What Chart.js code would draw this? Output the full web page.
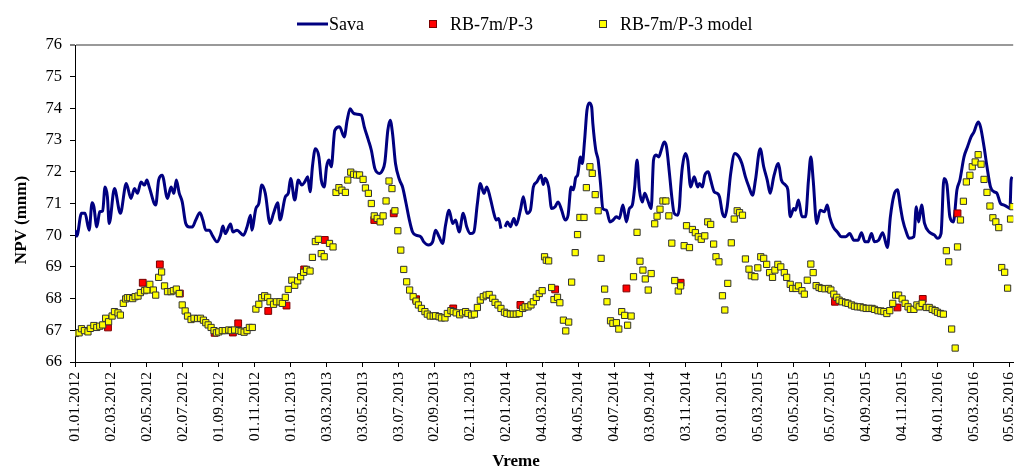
<!DOCTYPE html>
<html>
<head>
<meta charset="utf-8">
<script src="https://cdn.jsdelivr.net/npm/chart.js@4.4.0/dist/chart.umd.min.js"></script>
<style>
  html, body { margin: 0; padding: 0; background: #fff; overflow: hidden; }
  #wrap { width: 1019px; height: 468px; }
</style>
</head>
<body>
<div id="wrap"><canvas id="npvChart"></canvas></div>
<script>
// x values are days counted from 01.01.2012
const startDate = Date.UTC(2012, 0, 1);
const tickStepDays = 61;
const tickCount = 27;          // 01.01.2012 ... 05.05.2016
const lastDay = 1592.5;        // plot is cut at the right edge
const yMin = 66, yMax = 76;

// Sava river level [day, NPV]
const savaLevels = [
  [0,70.16],[3,69.97],[11,70.69],[17,70.69],[24,70.16],[29,71.02],[32,70.9],[37,70.26],[42,70.74],[47,70.77],
  [51,71.52],[55,71.21],[58,70.37],[67,71.47],[77,70.69],[87,71.63],[95,71.16],[101,71.47],[106,71.32],[112,71.68],
  [118,71.58],[122,71.74],[126,71.52],[137,70.95],[142,71.74],[148,71.89],[157,71.16],[163,71.52],[168,71.32],[172,71.74],
  [177,71.32],[182,71.05],[188,70.37],[194,70.26],[199,70.26],[205,70.48],[212,70.71],[217,70.48],[222,70.16],[228,70.16],
  [233,70.0],[241,69.79],[247,70.0],[251,70.29],[255,70.05],[264,70.35],[268,70.1],[275,70.16],[286,70.0],[292,70.26],
  [298,70.63],[300,70.16],[307,70.84],[312,71.0],[317,71.58],[323,71.32],[331,70.37],[337,70.69],[344,71.02],[348,70.48],
  [357,71.21],[362,71.32],[366,71.79],[373,71.11],[379,71.74],[385,71.58],[390,71.68],[395,71.84],[399,71.37],[403,72.16],
  [408,72.73],[414,72.47],[418,71.74],[423,71.52],[427,72.16],[431,72.37],[435,72.16],[441,73.31],[449,73.42],[457,73.1],
  [462,73.63],[467,73.99],[472,73.86],[477,73.82],[486,73.79],[491,73.42],[498,73.0],[503,72.68],[509,72.1],[517,71.95],
  [522,72.05],[526,72.31],[531,73.31],[535,73.63],[539,73.21],[544,72.26],[551,71.74],[556,71.52],[562,71.0],[567,70.53],
  [573,70.1],[579,70.0],[587,69.95],[592,69.79],[600,69.69],[607,69.79],[612,70.16],[618,69.95],[624,69.74],[629,70.32],
  [635,70.79],[641,70.37],[646,70.48],[652,70.1],[659,70.69],[665,70.26],[671,70.05],[677,70.1],[683,71.0],[688,71.63],
  [694,71.32],[699,71.52],[705,71.16],[711,70.69],[715,70.48],[719,70.53],[723,70.21],[726,null],[730,70.26],[734,70.42],
  [739,70.27],[745,70.53],[749,70.32],[756,70.79],[761,71.21],[767,70.69],[773,70.79],[778,71.52],[784,71.68],[791,71.89],
  [795,71.6],[798,71.8],[804,71.52],[809,70.84],[815,70.9],[820,71.05],[826,70.79],[832,70.48],[837,70.64],[842,71.52],
  [846,71.43],[850,71.82],[853,71.89],[858,72.47],[861,72.26],[865,73.0],[869,73.94],[873,74.17],[877,74.04],[879,73.52],
  [884,72.68],[888,72.37],[892,71.63],[896,70.84],[902,70.79],[908,70.42],[913,70.47],[919,70.58],[924,70.53],[930,70.95],
  [936,70.42],[941,70.84],[946,70.95],[950,71.52],[954,72.37],[958,71.43],[963,71.05],[967,71.32],[972,71.11],[978,70.84],
  [982,72.37],[986,72.53],[991,72.47],[995,72.68],[1000,72.94],[1004,72.79],[1009,71.95],[1013,71.21],[1017,70.69],[1023,70.63],
  [1026,70.9],[1028,71.52],[1031,72.16],[1036,72.58],[1040,72.37],[1045,71.52],[1051,71.84],[1057,71.52],[1060,71.63],[1065,71.52],
  [1069,71.89],[1075,72.0],[1079,71.74],[1085,71.37],[1090,71.32],[1094,71.21],[1099,70.69],[1103,70.58],[1107,70.9],[1113,71.95],
  [1120,72.58],[1127,72.47],[1132,72.26],[1138,71.84],[1144,71.52],[1150,71.26],[1155,71.74],[1163,72.73],[1169,72.16],[1175,71.74],
  [1180,71.32],[1186,71.84],[1194,72.26],[1199,71.74],[1206,71.58],[1210,71.43],[1214,70.58],[1220,70.84],[1223,70.79],[1228,71.11],
  [1234,70.58],[1240,70.58],[1245,71.74],[1249,72.47],[1253,71.74],[1259,70.37],[1265,70.79],[1272,70.74],[1277,70.95],[1281,70.58],
  [1287,70.26],[1294,70.1],[1301,69.95],[1308,69.95],[1315,70.05],[1322,69.84],[1329,69.84],[1335,70.08],[1341,69.79],[1346,69.79],
  [1352,70.05],[1357,69.79],[1364,69.84],[1371,70.08],[1379,69.61],[1384,70.58],[1390,71.26],[1396,71.43],[1401,70.9],[1405,70.48],
  [1411,70.1],[1416,69.9],[1424,69.95],[1428,70.9],[1432,70.42],[1437,70.95],[1442,70.37],[1450,70.1],[1459,70.0],[1464,69.9],
  [1470,70.05],[1475,71.79],[1480,71.6],[1485,70.58],[1491,70.42],[1497,71.43],[1502,71.74],[1509,72.47],[1515,72.79],[1521,73.1],
  [1526,73.26],[1533,73.57],[1537,73.42],[1543,72.79],[1548,72.16],[1554,71.52],[1560,71.37],[1565,71.32],[1571,71.0],[1577,70.95],
  [1582,70.9],[1587,70.84],[1589,71.74],[1591,71.84]
];

// measured piezometer RB-7m/P-3 [day, NPV]
const rbMeasured = [
  [56,67.09],[115,68.5],[144,69.08],[178,68.16],[237,66.92],[268,66.93],[277,67.22],[328,67.61],[359,67.78],[389,68.92],
  [424,69.85],[508,70.48],[541,70.69],[579,67.98],[642,67.69],[756,67.8],[815,68.29],[936,68.32],[1028,68.5],[1290,67.9],
  [1396,67.72],[1439,67.99],[1498,70.69]
];

// model RB-7m/P-3 [day, NPV]
const rbModel = [
  [1,66.9],[7,66.92],[11,67.05],[16,66.99],[22,66.95],[26,67.06],[32,67.15],[37,67.09],[42,67.13],[47,67.17],
  [52,67.38],[57,67.27],[63,67.45],[67,67.59],[73,67.55],[77,67.48],[82,67.85],[86,67.99],[89,68.03],[93,68.03],
  [98,68.0],[102,68.06],[107,68.08],[111,68.19],[118,68.25],[122,68.27],[127,68.45],[133,68.27],[137,68.11],[142,68.67],
  [147,68.84],[152,68.4],[157,68.22],[163,68.22],[167,68.25],[172,68.3],[177,68.16],[182,67.8],[187,67.61],[191,67.45],
  [197,67.34],[202,67.38],[208,67.37],[213,67.38],[218,67.32],[222,67.24],[226,67.17],[231,67.09],[236,66.99],[240,66.92],
  [244,66.95],[250,66.99],[255,66.99],[261,67.01],[265,66.99],[271,67.01],[278,66.99],[282,66.97],[287,66.94],[292,66.99],
  [296,67.09],[301,67.09],[307,67.67],[312,67.82],[317,68.03],[322,68.09],[327,68.04],[331,67.9],[337,67.82],[342,67.9],
  [348,67.9],[352,67.85],[357,68.04],[362,68.29],[368,68.58],[373,68.42],[378,68.56],[383,68.69],[388,68.83],[393,68.92],
  [399,68.87],[403,69.3],[408,69.8],[413,69.87],[418,69.42],[423,69.32],[432,69.74],[438,69.63],[443,71.35],[448,71.5],
  [453,71.42],[459,71.35],[463,71.74],[468,71.99],[473,71.92],[478,71.9],[483,71.9],[489,71.76],[493,71.49],[498,71.32],
  [503,71.0],[508,70.61],[513,70.53],[518,70.42],[523,70.61],[528,71.08],[533,71.71],[538,71.47],[543,70.77],[548,70.14],
  [553,69.53],[558,68.92],[563,68.53],[568,68.27],[574,68.06],[579,67.92],[583,67.8],[588,67.69],[594,67.59],[598,67.51],
  [603,67.45],[608,67.45],[612,67.46],[618,67.43],[622,67.39],[628,67.39],[632,67.53],[638,67.62],[642,67.59],[647,67.55],
  [653,67.49],[658,67.55],[663,67.59],[667,67.53],[673,67.48],[678,67.51],[683,67.72],[688,67.95],[693,68.06],[698,68.11],
  [703,68.13],[709,68.01],[713,67.88],[718,67.8],[723,67.69],[729,67.57],[733,67.53],[739,67.51],[744,67.51],[749,67.51],
  [754,67.53],[760,67.69],[764,67.74],[769,67.74],[774,67.8],[778,67.9],[783,68.04],[788,68.16],[793,68.25],[797,69.32],
  [800,69.21],[804,69.19],[809,68.35],[813,67.97],[819,68.04],[823,67.87],[829,67.32],[833,66.98],[838,67.26],[843,68.52],
  [849,69.45],[853,70.02],[857,70.56],[864,70.56],[868,71.5],[874,72.16],[878,71.95],[883,71.28],[888,70.77],[893,69.27],
  [899,68.3],[903,67.9],[909,67.3],[913,67.22],[919,67.24],[923,67.04],[928,67.59],[933,67.47],[938,67.16],[944,67.45],
  [948,68.69],[954,70.09],[959,69.18],[964,68.9],[968,68.62],[973,68.27],[978,68.79],[984,70.36],[988,70.6],[993,70.82],
  [998,71.08],[1003,71.08],[1008,70.61],[1013,69.75],[1018,68.57],[1024,68.24],[1028,68.4],[1034,69.67],[1038,70.3],[1043,69.61],
  [1048,70.18],[1053,70.08],[1058,69.95],[1063,69.87],[1069,69.98],[1074,70.42],[1079,70.34],[1084,69.72],[1088,69.32],[1093,69.16],
  [1099,68.09],[1103,67.64],[1108,68.48],[1114,69.76],[1119,70.51],[1124,70.77],[1128,70.71],[1133,70.63],[1138,69.25],[1144,68.93],
  [1148,68.72],[1154,68.69],[1159,68.97],[1164,69.32],[1169,69.27],[1174,69.08],[1179,68.82],[1184,68.67],[1188,68.9],[1193,69.08],
  [1198,69.0],[1204,68.82],[1208,68.67],[1214,68.45],[1218,68.32],[1224,68.32],[1228,68.4],[1234,68.25],[1238,68.14],[1243,68.58],
  [1249,69.09],[1253,68.82],[1258,68.41],[1263,68.35],[1267,68.32],[1273,68.31],[1279,68.32],[1283,68.27],[1288,68.14],[1293,68.04],
  [1297,67.95],[1302,67.9],[1308,67.87],[1312,67.85],[1318,67.8],[1323,67.76],[1328,67.74],[1333,67.74],[1338,67.71],[1343,67.69],
  [1348,67.69],[1353,67.69],[1357,67.66],[1363,67.62],[1368,67.61],[1373,67.59],[1378,67.53],[1383,67.62],[1388,67.85],[1393,68.11],
  [1398,68.11],[1404,67.99],[1409,67.85],[1414,67.74],[1418,67.66],[1424,67.66],[1429,67.8],[1433,67.74],[1438,67.85],[1445,67.72],
  [1450,67.72],[1455,67.66],[1460,67.62],[1464,67.57],[1469,67.53],[1474,67.51],[1479,69.51],[1483,69.16],[1488,67.04],[1494,66.44],
  [1498,69.63],[1503,70.48],[1508,71.07],[1513,71.68],[1519,71.89],[1523,72.16],[1528,72.31],[1533,72.54],[1538,72.24],[1543,71.76],
  [1548,71.35],[1553,70.92],[1558,70.55],[1563,70.42],[1568,70.24],[1573,68.98],[1578,68.83],[1583,68.33],[1588,70.51],[1592,70.9]
];

const toPoints = rows => rows.map(r => ({ x: r[0], y: r[1] }));

function dayLabel(day) {
  const d = new Date(startDate + Math.round(day) * 86400000);
  const dd = String(d.getUTCDate()).padStart(2, '0');
  const mm = String(d.getUTCMonth() + 1).padStart(2, '0');
  return dd + '.' + mm + '.' + d.getUTCFullYear();
}

const serif = '"Liberation Serif", "Times New Roman", serif';

// legend row and axis titles, placed like the original sheet
const sheetText = {
  id: 'sheetText',
  afterDraw(chart) {
    const ctx = chart.ctx;
    const ds = chart.data.datasets;
    ctx.save();
    ctx.fillStyle = '#000';
    ctx.textBaseline = 'alphabetic';
    ctx.font = '18px ' + serif;

    ctx.strokeStyle = ds[0].borderColor;
    ctx.lineWidth = 3;
    ctx.beginPath();
    ctx.moveTo(297, 24);
    ctx.lineTo(328, 24);
    ctx.stroke();
    ctx.fillText(ds[0].label, 329, 30);

    [[1, 433, 450], [2, 603, 620]].forEach(([i, cx, tx]) => {
      ctx.fillStyle = ds[i].backgroundColor;
      ctx.fillRect(cx - 3, 21, 6, 6);
      ctx.strokeStyle = ds[i].borderColor;
      ctx.lineWidth = 1;
      ctx.strokeRect(cx - 3.5, 20.5, 7, 7);
      ctx.fillStyle = '#000';
      ctx.fillText(ds[i].label, tx, 30);
    });

    ctx.font = 'bold 17px ' + serif;
    ctx.textAlign = 'center';
    ctx.fillText('Vreme', 516, 466);

    ctx.translate(26, 220);
    ctx.rotate(-Math.PI / 2);
    ctx.fillText('NPV (mnm)', 0, 0);
    ctx.restore();
  }
};

new Chart(document.getElementById('npvChart'), {
  type: 'scatter',
  data: {
    datasets: [
      {
        label: 'Sava',
        data: toPoints(savaLevels),
        showLine: true,
        borderColor: '#000080',
        backgroundColor: '#000080',
        borderWidth: 3,
        pointRadius: 0,
        cubicInterpolationMode: 'monotone',
        spanGaps: false,
        order: 3
      },
      {
        label: 'RB-7m/P-3',
        data: toPoints(rbMeasured),
        pointStyle: 'rect',
        pointRadius: 4.8,
        backgroundColor: '#ff0000',
        borderColor: '#7a0000',
        borderWidth: 1,
        order: 2
      },
      {
        label: 'RB-7m/P-3 model',
        data: toPoints(rbModel),
        pointStyle: 'rect',
        pointRadius: 4.4,
        backgroundColor: '#ffff00',
        borderColor: '#333333',
        borderWidth: 1,
        order: 1
      }
    ]
  },
  options: {
    responsive: true,
    maintainAspectRatio: false,
    animation: false,
    layout: { padding: { top: 45, right: 0, left: 0, bottom: 0 } },
    plugins: {
      legend: { display: false },
      tooltip: { enabled: false }
    },
    scales: {
      x: {
        type: 'linear',
        min: 0,
        max: lastDay,
        afterBuildTicks: scale => {
          scale.ticks = Array.from({ length: tickCount }, (_, i) => ({ value: i * tickStepDays }));
        },
        afterFit: scale => {
          scale.height = 106;
          scale.paddingLeft = 0;
          scale.paddingRight = 0;
        },
        border: { color: '#000', width: 1 },
        grid: { drawOnChartArea: false, tickLength: 5, tickColor: '#000' },
        ticks: {
          autoSkip: false,
          minRotation: 90,
          maxRotation: 90,
          padding: 5,
          color: '#000',
          font: { family: serif, size: 15.5 },
          callback: v => dayLabel(v)
        }
      },
      y: {
        min: yMin,
        max: yMax,
        afterFit: scale => { scale.width = 75; },
        border: { color: '#000', width: 1 },
        grid: {
          color: c => (c.tick && c.tick.value === yMax ? '#999999' : 'rgba(0,0,0,0)'),
          lineWidth: c => (c.tick && c.tick.value === yMax ? 2 : 1),
          tickLength: 5,
          tickColor: '#000',
          tickWidth: 1
        },
        ticks: {
          stepSize: 1,
          padding: 8,
          color: '#000',
          font: { family: serif, size: 16.5 }
        }
      }
    }
  },
  plugins: [sheetText]
});
</script>
</body>
</html>
